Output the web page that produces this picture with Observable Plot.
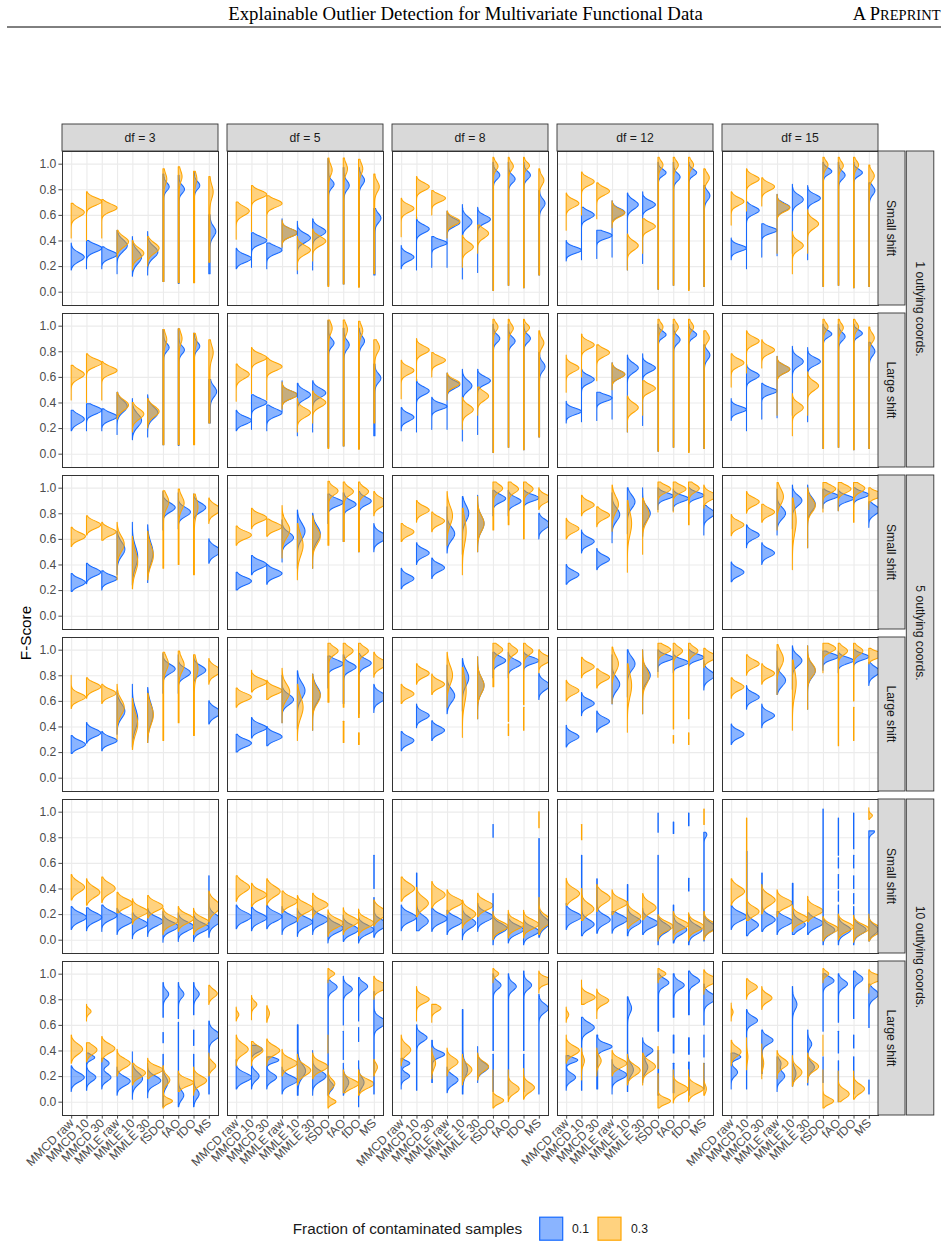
<!DOCTYPE html>
<html><head><meta charset="utf-8">
<script src="https://cdn.jsdelivr.net/npm/d3@7"></script>
<script src="https://cdn.jsdelivr.net/npm/@observablehq/plot@0.6"></script>
<style>html,body{margin:0;padding:0;background:#fff;} #chart{position:absolute;left:0;top:0;width:948px;height:1248px;}</style>
</head><body><div id="chart"></div><script>
// ---------------- categories / labels ----------------
const methods = ["MMCD raw","MMCD 10","MMCD 30","MMLE raw","MMLE 10","MMLE 30","fSDO","fAO","fDO","MS"];
const dfs = [3, 5, 8, 12, 15];
const dfLabels = ["df = 3","df = 5","df = 8","df = 12","df = 15"];
const shifts = ["Small shift", "Large shift"];
const coords = ["1 outlying coords.", "5 outlying coords.", "10 outlying coords."];
const fractions = ["0.1", "0.3"];
const yTicks = [0, 0.2, 0.4, 0.6, 0.8, 1.0];
const headerTitle = "Explainable Outlier Detection for Multivariate Functional Data";
const legendTitle = "Fraction of contaminated samples";
const yTitle = "F-Score";

// ---------------- violin summaries ----------------
// each violin: [support segments [lo,hi,(lo2,hi2..)], mode, sd, weight, (mode2, sd2, weight2 ...)]
// remaining weight (1 - sum of weights) is spread evenly over the support (thin tails)
// outer index: df (3,5,8,12,15); inner index: method

const c1_small_01 = [
 [[[.17,.38],.27,.035],[[.18,.40],.34,.03],[[.18,.35],.29,.03],[[.14,.48],.36,.045],[[.12,.43],.27,.05],[[.13,.47],.31,.045],[[.08,.92],.82,.03,.35],[[.065,.91],.80,.03,.35],[[.08,.93],.83,.03,.35],[[.14,.60],.47,.04,.5]],
 [[[.18,.34],.26,.03],[[.19,.46],.40,.03],[[.18,.38],.325,.03],[[.34,.57],.46,.03],[[.14,.55],.42,.035],[[.17,.57],.47,.035],[[.05,1.04],.84,.03,.35],[[.06,.97],.83,.035,.4],[[.04,.97],.87,.035,.4],[[.13,.65],.575,.035,.45]],
 [[[.18,.36],.27,.03],[[.17,.58],.49,.03],[[.19,.43],.38,.025],[[.19,.63],.54,.03],[[.10,.68],.545,.04],[[.15,.66],.565,.03],[[.01,1.01],.91,.03,.5],[[.05,1.01],.88,.03,.5],[[.03,1.01],.91,.03,.5],[[.13,.79],.69,.035,.5]],
 [[[.24,.40],.325,.025],[[.25,.66],.60,.03],[[.26,.48],.44,.025],[[.27,.71],.62,.03],[[.17,.77],.68,.035],[[.22,.78],.68,.03],[[.02,1.01],.93,.025,.5],[[.05,1.01],.895,.03,.5],[[.02,1.01],.93,.025,.5],[[.04,.83],.75,.035,.5]],
 [[[.25,.42],.34,.025],[[.18,.70],.635,.03],[[.27,.53],.48,.025],[[.28,.76],.66,.03],[[.30,.84],.72,.035],[[.25,.83],.73,.03],[[.04,1.01],.94,.025,.55],[[.05,1.01],.91,.03,.5],[[.03,1.01],.93,.025,.55],[[.04,.85],.79,.035,.5]]
];
const c1_small_03 = [
 [[[.42,.69],.62,.035],[[.40,.78],.705,.03],[[.42,.72],.655,.03],[[.27,.48],.39,.04],[[.17,.40],.30,.04],[[.20,.43],.34,.04],[[.08,.96],.88,.04,.25],[[.07,.975],.90,.04,.25],[[.07,.94],.88,.04,.2],[[.23,.90],.78,.05,.35]],
 [[[.41,.70],.63,.035],[[.47,.83],.76,.03],[[.42,.75],.69,.03],[[.35,.56],.46,.03],[[.17,.43],.325,.035],[[.24,.49],.395,.035],[[.04,1.045],.95,.04,.3],[[.06,1.045],.96,.04,.3],[[.035,1.035],.96,.04,.3],[[.14,.92],.82,.04,.4]],
 [[[.43,.73],.65,.03],[[.57,.90],.82,.03],[[.60,.79],.73,.028],[[.42,.63],.55,.03],[[.19,.44],.35,.035],[[.30,.52],.455,.035],[[.01,1.05],.98,.03,.35],[[.05,1.05],.98,.03,.35],[[.03,1.05],.985,.025,.35],[[.13,.96],.87,.035,.4]],
 [[[.48,.77],.69,.03],[[.60,.935],.86,.03],[[.57,.85],.785,.03],[[.50,.71],.615,.03],[[.17,.45],.36,.035],[[.30,.57],.51,.03],[[.02,1.05],.99,.03,.35],[[.05,1.05],.99,.03,.35],[[.01,1.05],.99,.03,.35],[[.04,.96],.89,.035,.45]],
 [[[.52,.78],.705,.03],[[.63,.96],.88,.03],[[.67,.89],.82,.03],[[.30,.76],.655,.03],[[.14,.47],.36,.035],[[.30,.64],.53,.035],[[.04,1.05],.99,.03,.35],[[.05,1.05],.985,.03,.35],[[.03,1.05],.99,.03,.35],[[.04,.99],.905,.035,.45]]
];
const c1_large_01 = [
 [[[.18,.34],.27,.035],[[.18,.39],.34,.03],[[.18,.35],.29,.03],[[.15,.48],.37,.045],[[.11,.43],.26,.05],[[.13,.46],.32,.045],[[.07,.97],.83,.03,.35],[[.065,.975],.81,.03,.35],[[.08,.94],.84,.03,.35],[[.24,.58],.485,.04,.55]],
 [[[.18,.34],.26,.03],[[.19,.46],.40,.03],[[.18,.38],.32,.03],[[.33,.57],.46,.03],[[.14,.55],.46,.035],[[.17,.57],.475,.035],[[.05,1.04],.865,.03,.35],[[.06,.98],.85,.035,.4],[[.04,.98],.88,.035,.4],[[.14,.70],.59,.035,.45]],
 [[[.18,.36],.285,.03],[[.17,.58],.49,.03],[[.19,.44],.37,.025],[[.19,.63],.54,.03],[[.10,.66],.53,.04],[[.15,.66],.57,.03],[[.01,1.01],.90,.03,.5],[[.05,1.01],.88,.03,.5],[[.03,1.01],.90,.03,.5],[[.13,.79],.68,.035,.5]],
 [[[.24,.41],.33,.025],[[.25,.66],.58,.03],[[.26,.48],.435,.025],[[.27,.71],.62,.03],[[.17,.77],.67,.035],[[.22,.78],.67,.03],[[.02,1.01],.93,.025,.5],[[.05,1.01],.89,.03,.5],[[.02,1.01],.93,.025,.5],[[.04,.85],.77,.035,.5]],
 [[[.26,.43],.345,.025],[[.18,.70],.61,.03],[[.27,.55],.49,.025],[[.28,.76],.66,.03],[[.30,.84],.72,.035],[[.25,.83],.72,.03],[[.04,1.01],.935,.025,.55],[[.05,1.01],.915,.03,.5],[[.03,1.01],.94,.025,.55],[[.04,.87],.80,.035,.5]]
];
const c1_large_03 = [
 [[[.42,.69],.62,.035],[[.40,.78],.71,.03],[[.42,.72],.65,.03],[[.27,.48],.38,.04],[[.17,.40],.31,.04],[[.20,.43],.33,.04],[[.07,.97],.89,.04,.25],[[.07,.975],.90,.04,.25],[[.07,.94],.88,.04,.2],[[.24,.89],.79,.05,.35]],
 [[[.41,.70],.62,.035],[[.47,.83],.75,.03],[[.42,.75],.68,.03],[[.35,.56],.46,.03],[[.17,.43],.32,.035],[[.24,.49],.40,.035],[[.04,1.045],.98,.04,.3],[[.06,1.045],.97,.04,.3],[[.035,1.035],.96,.04,.3],[[.24,.89],.83,.04,.4]],
 [[[.43,.73],.65,.03],[[.57,.90],.81,.03],[[.60,.79],.73,.028],[[.42,.63],.55,.03],[[.19,.44],.345,.035],[[.30,.52],.45,.035],[[.01,1.05],.99,.03,.35],[[.05,1.05],.98,.03,.35],[[.03,1.05],.985,.025,.35],[[.13,.96],.865,.035,.4]],
 [[[.48,.77],.67,.03],[[.60,.935],.85,.03],[[.57,.85],.79,.03],[[.50,.71],.62,.03],[[.17,.45],.36,.035],[[.30,.57],.51,.03],[[.02,1.05],.99,.03,.35],[[.05,1.05],.99,.03,.35],[[.01,1.05],.99,.03,.35],[[.04,.96],.905,.035,.45]],
 [[[.52,.78],.71,.03],[[.63,.96],.88,.03],[[.67,.89],.81,.03],[[.30,.76],.66,.03],[[.14,.47],.36,.035],[[.30,.64],.53,.035],[[.04,1.05],.99,.03,.35],[[.05,1.05],.985,.03,.35],[[.03,1.05],.99,.03,.35],[[.04,.99],.905,.035,.45]]
];
const c5_small_01 = [
 [[[.19,.33],.26,.03],[[.25,.41],.34,.03],[[.20,.35],.29,.028],[[.32,.66],.52,.055],[[.24,.73],.46,.08],[[.26,.71],.49,.08],[[.67,.97],.845,.035],[[.68,.96],.81,.035],[[.69,.95],.845,.035],[[.41,.60],.505,.035]],
 [[[.20,.34],.27,.03],[[.32,.47],.40,.03],[[.245,.40],.33,.03],[[.42,.75],.61,.04],[[.37,.825],.66,.06],[[.37,.80],.64,.06],[[.72,.95],.885,.03],[[.58,.96],.87,.03,.8],[[.50,.97],.895,.03,.8],[[.50,.72],.615,.035]],
 [[[.21,.37],.29,.03],[[.40,.57],.49,.03],[[.29,.45],.375,.03],[[.49,.85],.64,.05],[[.48,.93],.80,.06],[[.50,.94],.72,.06],[[.78,.98],.915,.03],[[.78,.98],.895,.03],[[.78,.98],.92,.025],[[.60,.80],.715,.035]],
 [[[.245,.40],.32,.03],[[.49,.67],.58,.03],[[.36,.525],.44,.03],[[.57,.96],.79,.05],[[.64,1.0],.89,.05],[[.62,1.0],.80,.05],[[.83,1.0],.935,.025],[[.82,.99],.915,.025],[[.83,1.0],.94,.025],[[.63,.86],.80,.035]],
 [[[.265,.42],.34,.03],[[.53,.71],.63,.03],[[.40,.57],.49,.03],[[.63,.99],.80,.045],[[.68,1.02],.90,.04],[[.53,1.02],.87,.05],[[.84,.99],.935,.025],[[.82,.99],.915,.025],[[.85,1.0],.945,.025],[[.69,.89],.825,.035]]
];
const c5_small_03 = [
 [[[.54,.69],.62,.03],[[.63,.78],.71,.03],[[.59,.73],.655,.03],[[.28,.73],.56,.06],[[.21,.62],.42,.08],[[.28,.66],.47,.075],[[.37,.975],.89,.05,.6],[[.40,.99],.88,.05,.6],[[.32,.95],.85,.06,.5],[[.72,.92],.83,.035]],
 [[[.55,.70],.63,.03],[[.68,.84],.765,.03],[[.62,.755],.695,.03],[[.45,.86],.67,.06],[[.28,.72],.55,.08],[[.37,.78],.62,.06],[[.55,1.05],.975,.03,.6],[[.58,1.045],.97,.03,.6],[[.50,1.045],.97,.03,.6],[[.78,.97],.885,.035]],
 [[[.58,.72],.655,.03],[[.73,.90],.825,.03],[[.655,.81],.74,.03],[[.55,.97],.78,.07],[[.32,.84],.66,.1],[[.50,.93],.72,.06],[[.67,1.045],.995,.03,.7],[[.71,1.045],.99,.03,.75],[[.60,1.045],.99,.03,.7],[[.83,1.0],.915,.03]],
 [[[.60,.76],.68,.03],[[.78,.94],.865,.03],[[.695,.85],.785,.03],[[.66,1.02],.87,.06],[[.34,.90],.72,.09],[[.48,.92],.79,.06],[[.81,1.045],.99,.03],[[.81,1.045],.99,.03],[[.71,1.045],.995,.03,.8],[[.84,1.02],.935,.03]],
 [[[.625,.79],.71,.03],[[.80,.97],.89,.03],[[.73,.87],.81,.03],[[.67,1.04],.93,.06],[[.36,.92],.74,.1],[[.53,1.0],.86,.05],[[.81,1.04],.99,.03],[[.82,1.04],.99,.03],[[.73,1.04],.995,.03,.85],[[.83,1.0],.945,.025]]
];
const c5_large_01 = [
 [[[.19,.33],.26,.03],[[.27,.43],.35,.03],[[.21,.36],.29,.028],[[.34,.68],.52,.055],[[.24,.73],.46,.08],[[.275,.705],.50,.08],[[.66,.97],.85,.035],[[.66,.96],.82,.035],[[.68,.95],.84,.035],[[.42,.60],.51,.035]],
 [[[.20,.34],.27,.03],[[.31,.47],.39,.03],[[.25,.40],.32,.03],[[.43,.80],.61,.04],[[.38,.835],.68,.06],[[.37,.81],.65,.06],[[.70,.95],.89,.03],[[.58,.96],.865,.03,.8],[[.50,.97],.895,.03,.8],[[.51,.73],.63,.035]],
 [[[.21,.36],.29,.03],[[.39,.575],.485,.03],[[.29,.445],.37,.03],[[.50,.88],.64,.05],[[.52,.93],.78,.06],[[.46,.945],.72,.06],[[.78,.98],.915,.03],[[.78,.98],.89,.03],[[.78,.98],.915,.025],[[.61,.815],.72,.035]],
 [[[.24,.41],.32,.03],[[.485,.665],.58,.03],[[.355,.52],.44,.03],[[.575,.96],.73,.05],[[.63,1.0],.89,.05],[[.50,1.0],.80,.05],[[.83,1.0],.935,.025],[[.82,.99],.90,.025],[[.83,1.0],.94,.025],[[.685,.915],.80,.035]],
 [[[.26,.42],.34,.03],[[.535,.72],.63,.03],[[.39,.575],.485,.03],[[.65,.99],.76,.045],[[.69,1.03],.915,.04],[[.535,1.03],.835,.05],[[.84,.99],.945,.025],[[.82,.99],.915,.025],[[.85,1.0],.945,.025],[[.72,.90],.83,.035]]
];
const c5_large_03 = [
 [[[.54,.80],.63,.03],[[.62,.78],.71,.03],[[.58,.73],.66,.03],[[.30,.73],.55,.06],[[.22,.62],.42,.08],[[.275,.66],.49,.075],[[.29,.98],.89,.05,.55],[[.43,.99],.88,.05,.6],[[.33,.96],.85,.06,.5],[[.73,.93],.835,.035]],
 [[[.55,.70],.63,.03],[[.67,.84],.745,.03],[[.61,.76],.68,.03],[[.43,.855],.67,.06],[[.29,.73],.55,.08],[[.37,.81],.64,.06],[[.59,1.05],.99,.03,.6],[[.55,1.05,.275,.44],.99,.03,.6],[[.47,1.05,.26,.35],.99,.03,.6],[[.785,.98],.89,.035]],
 [[[.58,.73],.655,.03],[[.73,.89],.815,.03],[[.65,.81],.73,.03],[[.55,.98],.80,.07],[[.315,.86],.68,.1],[[.46,.945],.72,.06],[[.71,1.05],1.0,.03,.7],[[.44,1.05,.33,.42],.99,.03,.7],[[.57,1.05,.37,.55],.99,.03,.7],[[.82,1.0],.925,.03]],
 [[[.60,.76],.68,.03],[[.78,.94],.867,.03],[[.70,.85],.785,.03],[[.58,1.02],.89,.06],[[.355,.89],.72,.09],[[.50,1.0],.79,.06],[[.785,1.05],1.0,.03],[[.38,1.05,.27,.33],.99,.03,.7],[[.46,1.05,.26,.35],.99,.03,.7],[[.86,1.01],.945,.03]],
 [[[.62,.78],.71,.03],[[.80,.96],.89,.03],[[.73,.89],.815,.03],[[.65,1.04],.925,.06],[[.37,.92],.74,.1],[[.535,1.03],.84,.05],[[.82,1.05],1.01,.03],[[.25,1.05],.99,.03,.7],[[.29,.55,.60,1.05],.99,.03,.7],[[.89,1.01],.96,.025]]
];
const c10_small_01 = [
 [[[.08,.26],.175,.035],[[.07,.25],.175,.035],[[.065,.27],.19,.035],[[.04,.245],.148,.035],[[.008,.21],.122,.035],[[.026,.245],.143,.035],[[-.02,.22],.104,.035],[[-.013,.21],.104,.035],[[-.013,.20],.096,.035],[[.02,.50],.155,.04,.9]],
 [[[.086,.27],.18,.035],[[.07,.28],.17,.035],[[.086,.27],.18,.035],[[.04,.26],.156,.035],[[.026,.245],.138,.035],[[.04,.25],.156,.035],[[-.026,.19],.09,.035],[[-.013,.19],.078,.035],[[-.026,.19],.078,.035],[[.02,.33,.40,.66],.12,.035,.85]],
 [[[.07,.27],.175,.035],[[.07,.52],.145,.04,.85],[[.065,.25],.164,.035],[[.04,.23],.143,.035],[[0,.27],.13,.04],[[.065,.285],.18,.035],[[-.04,.36,.80,.90],.09,.035,.9],[[-.026,.2],.078,.035],[[-.04,.2],.065,.035],[[.02,.79],.13,.04,.75]],
 [[[.08,.285],.18,.035],[[.03,.66],.12,.035,.8],[[.05,.475],.156,.035,.85],[[.05,.22],.156,.035],[[.03,.43],.143,.035,.85],[[.04,.245],.13,.035],[[-.04,.66,.84,.99],.09,.035,.8],[[-.026,.27,.83,.92],.078,.035,.85],[[-.04,.195,.38,.48,.89,.99],.078,.035,.85],[[-.01,.84],.10,.035,.7,.82,.02,.1]],
 [[[.08,.27],.18,.035],[[.03,.69],.115,.035,.75],[[.065,.52],.156,.035,.85],[[.04,.22],.143,.035],[[.04,.44],.117,.035,.8],[[.04,.21],.13,.035],[[-.04,1.02],.075,.035,.75],[[-.04,.27,.30,.38,.40,.51,.56,.64,.66,.95],.078,.035,.8],[[-.04,.26,.28,.36,.40,.50,.56,.66,.71,.99],.078,.035,.8],[[-.01,.85],.078,.035,.6,.845,.02,.2]]
];
const c10_small_03 = [
 [[[.31,.51],.41,.04],[[.27,.475],.37,.04],[[.29,.49],.40,.04],[[.21,.37],.285,.035],[[.12,.32],.22,.035],[[.17,.345],.26,.035],[[.04,.245],.148,.035],[[.065,.26],.164,.035],[[.04,.245],.138,.035],[[.14,.38],.26,.045]],
 [[[.30,.50],.41,.04],[[.26,.44],.35,.035],[[.27,.475],.377,.04],[[.21,.38],.30,.035],[[.14,.345],.247,.035],[[.17,.363],.273,.035],[[.026,.234],.13,.035],[[.04,.25],.143,.035],[[.03,.24],.13,.035],[[.11,.31],.208,.04]],
 [[[.30,.49],.40,.04],[[.18,.41],.285,.045],[[.247,.455],.35,.04],[[.20,.39],.293,.035],[[.09,.31],.20,.04],[[.18,.363],.267,.035],[[0,.22],.104,.035],[[.013,.23],.117,.035],[[.013,.23],.12,.035],[[.04,.33,.875,1.0],.148,.04,.9]],
 [[[.27,.48],.36,.04],[[.15,.40,.78,.90],.24,.04,.9],[[.22,.43],.325,.04],[[.195,.39],.285,.035],[[.09,.30],.18,.04],[[.155,.36],.25,.04],[[-.01,.195],.104,.035],[[0,.22],.117,.035],[[-.01,.21],.104,.035],[[0,.22,.90,1.02],.104,.035,.9]],
 [[[.27,.475],.377,.04],[[.15,.95],.22,.035,.8],[[.20,.43],.31,.04],[[.18,.39],.285,.035],[[.065,.27],.164,.035],[[.14,.34],.226,.035],[[-.01,.18],.085,.035],[[0,.2],.10,.035],[[-.02,.19],.085,.035],[[-.01,.2,.94,1.03],.078,.035,.9,.97,.015,.1]]
];
const c10_large_01 = [
 [[[.08,.28],.19,.035],[[.09,.38],.19,.03,.6,.345,.02,.35],[[.10,.34],.19,.03,.6,.30,.025,.4],[[.05,.27],.16,.035],[[.02,.39],.18,.045],[[.03,.30],.165,.035],[[-.04,.37,.46,.54,.66,.93],.84,.03,.35,.15,.04,.4],[[-.04,.62,.65,.93],.84,.03,.35,.05,.035,.4],[[-.04,.37,.44,.56,.68,.93],.84,.03,.35,.06,.035,.4],[[.06,.63],.52,.035,.8]],
 [[[.10,.33],.19,.035],[[.10,.44],.41,.025,.5,.20,.035,.5],[[.10,.35],.19,.03,.55,.325,.02,.45],[[.06,.27],.166,.035],[[.05,.60],.24,.05,.7],[[.05,.40],.20,.04],[[.05,.95],.895,.03,.5,.12,.03,.3],[[.05,.30,.33,.55,.60,.98],.88,.03,.5,.15,.04,.4],[[-.04,.32,.47,.58,.63,.97],.90,.03,.5,.15,.04,.4],[[.06,.86],.62,.035,.8]],
 [[[.10,.34],.20,.025,.55,.30,.02,.45],[[.09,.60],.50,.03,.8],[[.15,.48],.37,.025,.8],[[.07,.27],.17,.035],[[.06,.72],.25,.05,.6],[[.15,.43],.27,.035],[[.08,.37,.40,1.0],.91,.03,.6],[[.05,1.0],.90,.03,.6],[[.08,.37,.40,1.02],.91,.03,.6],[[.06,.84],.73,.035,.85]],
 [[[.09,.36],.19,.03,.55,.325,.02,.45],[[.09,.66],.58,.035,.85],[[.10,.52],.43,.025,.7],[[.06,.33],.21,.035],[[.08,.82],.25,.045,.5,.73,.04,.3],[[.15,.50],.40,.03,.6,.27,.04,.4],[[.05,.40,.55,1.0],.93,.03,.6],[[.07,.30,.38,.52,.66,1.0],.91,.03,.6],[[.05,.31,.37,.50,.68,1.02],.945,.03,.6],[[.10,.30,.35,.52,.60,.92],.81,.035,.85]],
 [[[.10,.38],.23,.03,.5,.35,.02,.5],[[.10,.72],.635,.03,.85],[[.22,.56],.48,.03,.85],[[.08,.35],.20,.035,.7,.30,.03,.3],[[.12,.90],.76,.04,.45,.22,.04,.35],[[.13,.56],.27,.035,.6,.45,.03,.3],[[.15,.35,.55,1.0],.945,.03,.85],[[0,.32,.38,.55,.62,1.0],.92,.03,.7],[[.06,.35,.42,.52,.65,1.02],.96,.03,.7],[[.06,.17,.58,.92],.84,.035,.85]]
];
const c10_large_03 = [
 [[[.30,.52],.41,.04],[[.31,.46,.63,.76],.405,.035,.8,.705,.02,.2],[[.31,.51],.415,.035],[[.20,.41],.30,.035],[[.13,.30],.225,.035],[[.18,.34],.25,.03],[[-.05,.28],.17,.035,.5,.005,.02,.4],[[.08,.24],.15,.03],[[.05,.27],.165,.035],[[.20,.38,.76,.91],.845,.03,.55,.28,.03,.45]],
 [[[.28,.52,.63,.74],.41,.04,.9,.68,.02,.1],[[.28,.47,.64,.83],.40,.035,.75,.76,.025,.25],[[.28,.49,.62,.75],.40,.035,.85,.69,.03,.15],[[.20,.41],.30,.035],[[.13,.37],.245,.04],[[.18,.38],.275,.035],[[-.05,.28,.38,.52,.93,1.04],.14,.035,.45,0,.02,.3,1.0,.02,.25],[[.07,.25],.14,.035],[[.05,.25],.14,.035],[[.2,.33,.80,.98],.90,.03,.8,.27,.03,.2]],
 [[[.28,.52],.405,.04],[[.63,.9],.80,.03],[[.18,.42,.62,.76],.73,.025,.6,.30,.04,.4],[[.2,.42],.31,.035],[[.13,.37],.25,.04],[[.17,.38],.275,.035],[[-.05,.25,.93,1.04],.01,.025,.7,1.0,.02,.3],[[0,.25],.10,.035],[[.02,.26],.11,.035],[[.85,1.02],.945,.025]],
 [[[.3,.52,.62,.74],.40,.035,.9,.68,.02,.1],[[.17,.42,.76,.95],.815,.03,.8,.32,.035,.2],[[.2,.42,.65,.88],.79,.03,.7,.32,.035,.3],[[.2,.40],.30,.035],[[.13,.37],.245,.04],[[.13,.38],.275,.04],[[-.05,.22,.26,.43,.93,1.04],.005,.025,.6,1.0,.02,.3],[[-.01,.25],.10,.035],[[0,.25],.10,.035],[[.05,.3,.84,1.03],.95,.03,.85,.1,.03,.15]],
 [[[.28,.48,.63,.77],.39,.035,.9,.70,.02,.1],[[.25,.5,.80,.96],.895,.03,.85,.35,.04,.15],[[.18,.45,.72,.90],.81,.03,.8,.3,.04,.2],[[.18,.40],.30,.035],[[.12,.36],.23,.04],[[.15,.38],.275,.035],[[-.05,.25,.36,.52,.93,1.04],.005,.025,.7,1.0,.02,.3],[[0,.24],.06,.035],[[.02,.24],.10,.035],[[.85,1.03],.965,.025]]
];

// ---------------- assemble ----------------
const panelRows = [
  {coord: coords[0], shift: shifts[0], b: c1_small_01, o: c1_small_03},
  {coord: coords[0], shift: shifts[1], b: c1_large_01, o: c1_large_03},
  {coord: coords[1], shift: shifts[0], b: c5_small_01, o: c5_small_03},
  {coord: coords[1], shift: shifts[1], b: c5_large_01, o: c5_large_03},
  {coord: coords[2], shift: shifts[0], b: c10_small_01, o: c10_small_03},
  {coord: coords[2], shift: shifts[1], b: c10_large_01, o: c10_large_03}
];
const rowKeys = panelRows.map(r => r.coord + "|" + r.shift);

const SQ2PI = Math.sqrt(2 * Math.PI);
function density(v, L, y) {
  let s = 0, wsum = 0;
  for (let k = 1; k + 1 < v.length; k += 3) {
    const mu = v[k], sd = v[k + 1], w = v[k + 2] === undefined ? 1 : v[k + 2];
    wsum += w;
    s += w * Math.exp(-0.5 * ((y - mu) / sd) ** 2) / (sd * SQ2PI);
  }
  return s + Math.max(0, 1 - wsum) / L;
}

const WIDTH_UNITS = 1.0; // densest violin of a panel spans one category step
const pts = [];
let vid = 0;
panelRows.forEach((P, r) => {
  const row = rowKeys[r];
  dfs.forEach((df, j) => {
    const vs = [];
    methods.forEach((m, i) => {
      [[fractions[0], P.b], [fractions[1], P.o]].forEach(([frac, arr]) => {
        const v = arr[j][i];
        const segs = v[0];
        let L = 0;
        for (let s = 0; s < segs.length; s += 2) L += segs[s + 1] - segs[s];
        const segPts = [];
        for (let s = 0; s < segs.length; s += 2) {
          const lo = segs[s], hi = segs[s + 1];
          const n = Math.max(8, Math.ceil((hi - lo) / 0.004));
          const a = [];
          for (let k = 0; k <= n; k++) { const y = lo + (hi - lo) * k / n; a.push([y, density(v, L, y)]); }
          segPts.push(a);
        }
        vs.push({i, frac, segPts});
      });
    });
    const maxD = d3.max(vs, v => d3.max(v.segPts, s => d3.max(s, p => p[1])));
    vs.forEach(v => v.segPts.forEach(s => {
      const id = vid++;
      s.forEach(([y, d]) => pts.push({df, row, frac: v.frac, id, y, x0: v.i, x1: v.i + WIDTH_UNITS * d / maxD}));
    }));
  });
});

// ---------------- plot ----------------
const FONT = "'Liberation Sans', Arial, Helvetica, sans-serif";
const BLUE = "#1569FF", ORANGE = "#FFA500";
const M = {top: 148.8, bottom: 132, left: 60.7, right: 69};

const plot = Plot.plot({
  width: 948, height: 1248,
  marginTop: M.top, marginBottom: M.bottom, marginLeft: M.left, marginRight: M.right,
  style: {fontFamily: FONT, fontSize: "12.2px", color: "#4d4d4d", background: "transparent", overflow: "visible"},
  fx: {domain: dfs, paddingInner: 0.0532, paddingOuter: 0, align: 0.5, axis: null, label: null},
  fy: {domain: rowKeys, paddingInner: 0.0516, paddingOuter: 0, align: 0.5, axis: null, label: null},
  x: {type: "linear", domain: [-0.6, 9.6], ticks: d3.range(methods.length), tickFormat: d => methods[d], tickRotate: -45, tickSize: 3.6, tickPadding: 2, label: null},
  y: {domain: [-0.104, 1.099], ticks: yTicks, tickFormat: d3.format(".1f"), tickSize: 3.6, tickPadding: 2.5, label: null},
  color: {domain: fractions, range: [BLUE, ORANGE]},
  marks: [
    Plot.ruleX(d3.range(methods.length), {stroke: "#ebebeb", strokeWidth: 1.1}),
    Plot.ruleY(yTicks, {stroke: "#ebebeb", strokeWidth: 1.1}),
    Plot.areaX(pts, {fx: "df", fy: "row", y: "y", x1: "x0", x2: "x1", z: "id", fill: "frac", stroke: "frac", fillOpacity: 0.5, strokeWidth: 1.05, curve: "linear", clip: true}),
    Plot.frame({stroke: "#333333", strokeWidth: 1})
  ]
});
document.getElementById("chart").appendChild(plot);

// ---------------- strips, titles, legend ----------------
const fxS = plot.scale("fx"), fyS = plot.scale("fy");
const bwX = fxS.bandwidth, bwY = fyS.bandwidth;
const svg = d3.select(plot);
const deco = svg.append("g").attr("font-family", FONT);
const STRIP = 27;
const stripFill = "#d9d9d9", stripStroke = "#333333";

// top strips
dfs.forEach((df, j) => {
  const x0 = fxS.apply(df), y0 = fyS.apply(rowKeys[0]);
  deco.append("rect").attr("x", x0).attr("y", y0 - STRIP).attr("width", bwX).attr("height", STRIP)
    .attr("fill", stripFill).attr("stroke", stripStroke).attr("stroke-width", 0.9);
  deco.append("text").attr("x", x0 + bwX / 2).attr("y", y0 - STRIP / 2).attr("dy", "0.35em")
    .attr("text-anchor", "middle").attr("font-size", 12.2).attr("fill", "#1a1a1a").text(dfLabels[j]);
});
// right strips
const xRight = fxS.apply(dfs[dfs.length - 1]) + bwX;
rowKeys.forEach((key, r) => {
  const y0 = fyS.apply(key);
  deco.append("rect").attr("x", xRight).attr("y", y0).attr("width", STRIP).attr("height", bwY)
    .attr("fill", stripFill).attr("stroke", stripStroke).attr("stroke-width", 0.9);
  const cx = xRight + STRIP / 2, cy = y0 + bwY / 2;
  deco.append("text").attr("transform", `translate(${cx},${cy}) rotate(90)`).attr("dy", "0.35em")
    .attr("text-anchor", "middle").attr("font-size", 12.2).attr("fill", "#1a1a1a").text(panelRows[r].shift);
});
coords.forEach((c, k) => {
  const yA = fyS.apply(rowKeys[2 * k]), yB = fyS.apply(rowKeys[2 * k + 1]) + bwY;
  const x0 = xRight + STRIP + 1.3;
  deco.append("rect").attr("x", x0).attr("y", yA).attr("width", STRIP + 0.5).attr("height", yB - yA)
    .attr("fill", stripFill).attr("stroke", stripStroke).attr("stroke-width", 0.9);
  deco.append("text").attr("transform", `translate(${x0 + (STRIP + 0.5) / 2},${(yA + yB) / 2}) rotate(90)`).attr("dy", "0.35em")
    .attr("text-anchor", "middle").attr("font-size", 12.2).attr("fill", "#1a1a1a").text(c);
});
// y title
const yMid = (fyS.apply(rowKeys[0]) + fyS.apply(rowKeys[5]) + bwY) / 2;
deco.append("text").attr("transform", `translate(26,${yMid}) rotate(-90)`).attr("dy", "0.35em")
  .attr("text-anchor", "middle").attr("font-size", 15.3).attr("fill", "#000").text(yTitle);
// page header
const hdr = deco.append("g").attr("font-family", "'Liberation Serif', 'Times New Roman', serif").attr("fill", "#000");
hdr.append("text").attr("x", 465.5).attr("y", 20).attr("text-anchor", "middle").attr("font-size", 18.8).text(headerTitle);
const pp = hdr.append("text").attr("x", 940.5).attr("y", 20).attr("text-anchor", "end").attr("font-size", 18.5);
pp.append("tspan").text("A P");
pp.append("tspan").attr("font-size", 14.5).text("REPRINT");
hdr.append("line").attr("x1", 7).attr("x2", 941).attr("y1", 27).attr("y2", 27).attr("stroke", "#000").attr("stroke-width", 1);
// legend
const lg = deco.append("g").attr("text-anchor", "start");
lg.append("text").attr("x", 292.7).attr("y", 1228.7).attr("dy", "0.35em").attr("text-anchor", "start").attr("font-size", 15.3).attr("fill", "#1a1a1a").text(legendTitle);
const keys = [[539.7, BLUE, fractions[0], 572], [598, ORANGE, fractions[1], 631]];
keys.forEach(([kx, col, lab, tx]) => {
  lg.append("rect").attr("x", kx).attr("y", 1217.2).attr("width", 23).attr("height", 23)
    .attr("fill", col).attr("fill-opacity", 0.5).attr("stroke", col).attr("stroke-width", 1.2);
  lg.append("text").attr("x", tx).attr("y", 1228.7).attr("dy", "0.35em").attr("text-anchor", "start").attr("font-size", 12.2).attr("fill", "#1a1a1a").text(lab);
});
</script></body></html>
